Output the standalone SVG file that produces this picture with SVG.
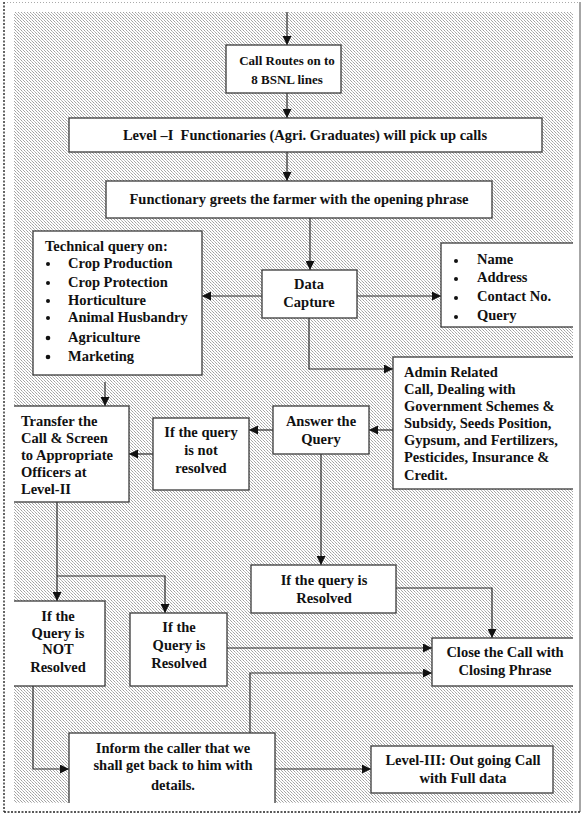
<svg xmlns="http://www.w3.org/2000/svg" width="586" height="817" viewBox="0 0 586 817">
<defs>
<pattern id="dots" width="3" height="3" patternUnits="userSpaceOnUse">
<rect width="3" height="3" fill="#ffffff"/>
<rect x="0" y="0" width="1" height="1" fill="#a0a0a0"/>
<rect x="1" y="1" width="1" height="1" fill="#c0c0c0"/>
<rect x="2" y="2" width="1" height="1" fill="#a8a8a8"/>
</pattern>
<clipPath id="area"><rect x="14" y="12" width="559" height="791"/></clipPath>
<marker id="ah" viewBox="0 0 10 10" refX="10" refY="5" markerWidth="9" markerHeight="9" markerUnits="userSpaceOnUse" orient="auto">
<path d="M0,0 L10,5 L0,10 Z" fill="#111"/>
</marker>
<style>
.box{fill:#ffffff;stroke:#3a3a3a;stroke-width:1.3}
.t{font-family:"Liberation Serif","Times New Roman",serif;font-weight:bold;font-size:14.5px;fill:#111}
.s{font-size:13px}
.c{text-anchor:middle}
.ln{fill:none;stroke:#2a2a2a;stroke-width:1.2}
.ar{marker-end:url(#ah)}
.bul{fill:#111}
</style>
</defs>
<rect width="586" height="817" fill="#ffffff"/>
<rect x="14" y="12" width="559" height="791" fill="url(#dots)"/>
<line x1="4" y1="2.5" x2="580" y2="2.5" stroke="#aaa" stroke-width="1" stroke-dasharray="1,2"/>
<line x1="4" y1="2" x2="4" y2="812" stroke="#333" stroke-width="1.5" stroke-dasharray="2,1.5"/>
<line x1="580" y1="2" x2="580" y2="812" stroke="#888" stroke-width="1.5"/>
<line x1="4" y1="812" x2="580" y2="812" stroke="#222" stroke-width="1.5" stroke-dasharray="2,1.5"/>
<g clip-path="url(#area)">
<g id="connectors">
<path class="ln ar" d="M287,12 V45"/>
<path class="ln ar" d="M287,93 V118"/>
<path class="ln ar" d="M287,152 V181"/>
<path class="ln ar" d="M310,218 V270"/>
<path class="ln ar" d="M262,296 H202"/>
<path class="ln ar" d="M357,296 H441"/>
<path class="ln ar" d="M309,318 V369 H393"/>
<path class="ln ar" d="M393,430 H369"/>
<path class="ln ar" d="M273,430 H249"/>
<path class="ln ar" d="M153,454 H129"/>
<path class="ln ar" d="M105,382 V406"/>
<path class="ln ar" d="M57,502 V601"/>
<path class="ln ar" d="M57,576 H165 V613"/>
<path class="ln ar" d="M321,454 V565"/>
<path class="ln ar" d="M396,588 H492 V638"/>
<path class="ln ar" d="M227,648 H432"/>
<path class="ln ar" d="M250,733 V673 H432"/>
<path class="ln ar" d="M33,686 V769 H69"/>
<path class="ln ar" d="M275,769 H371"/>
</g>
<g id="n1"><rect class="box" x="226" y="45" width="115" height="48"/>
<text class="t s c" x="287" y="65">Call Routes on to</text>
<text class="t s c" x="287" y="84">8 BSNL lines</text></g>
<g id="n2"><rect class="box" x="69" y="118" width="473" height="34"/>
<text class="t c" x="305" y="140">Level –I&#160; Functionaries (Agri. Graduates) will pick up calls</text></g>
<g id="n3"><rect class="box" x="106" y="181" width="386" height="37"/>
<text class="t c" x="299" y="204">Functionary greets the farmer with the opening phrase</text></g>
<g id="n4"><rect class="box" x="262" y="270" width="95" height="48"/>
<text class="t c" x="309" y="289">Data</text>
<text class="t c" x="309" y="307">Capture</text></g>
<g id="n5"><rect class="box" x="33" y="231" width="169" height="144"/>
<text class="t" x="45" y="251">Technical query on:</text>
<circle class="bul" cx="48" cy="264" r="2"/><text class="t" x="68" y="268">Crop Production</text>
<circle class="bul" cx="48" cy="283" r="2"/><text class="t" x="68" y="287">Crop Protection</text>
<circle class="bul" cx="48" cy="301" r="2"/><text class="t" x="68" y="305">Horticulture</text>
<circle class="bul" cx="48" cy="318" r="2"/><text class="t" x="68" y="322">Animal Husbandry</text>
<circle class="bul" cx="48" cy="338" r="2.3"/><text class="t" x="68" y="342">Agriculture</text>
<circle class="bul" cx="48" cy="357" r="2.3"/><text class="t" x="68" y="361">Marketing</text></g>
<g id="n6"><rect class="box" x="441" y="243" width="160" height="84"/>
<circle class="bul" cx="456" cy="261" r="2"/><text class="t" x="477" y="264">Name</text>
<circle class="bul" cx="456" cy="279" r="2"/><text class="t" x="477" y="282">Address</text>
<circle class="bul" cx="456" cy="298" r="2"/><text class="t" x="477" y="301">Contact No.</text>
<circle class="bul" cx="456" cy="317" r="2"/><text class="t" x="477" y="320">Query</text></g>
<g id="n7"><rect class="box" x="393" y="357" width="210" height="132"/>
<text class="t" x="404" y="377">Admin Related</text>
<text class="t" x="404" y="394">Call, Dealing with</text>
<text class="t" x="404" y="411">Government Schemes &amp;</text>
<text class="t" x="404" y="428">Subsidy, Seeds Position,</text>
<text class="t" x="404" y="445">Gypsum, and Fertilizers,</text>
<text class="t" x="404" y="462">Pesticides, Insurance &amp;</text>
<text class="t" x="404" y="480">Credit.</text></g>
<g id="n8"><rect class="box" x="273" y="406" width="96" height="48"/>
<text class="t c" x="321" y="426">Answer the</text>
<text class="t c" x="321" y="444">Query</text></g>
<g id="n9"><rect class="box" x="153" y="418" width="96" height="72"/>
<text class="t c" x="201" y="437">If the query</text>
<text class="t c" x="201" y="455">is not</text>
<text class="t c" x="201" y="473">resolved</text></g>
<g id="n10"><rect class="box" x="5" y="406" width="124" height="96"/>
<text class="t" x="21" y="426">Transfer the</text>
<text class="t" x="21" y="443">Call &amp; Screen</text>
<text class="t" x="21" y="460">to Appropriate</text>
<text class="t" x="21" y="477">Officers at</text>
<text class="t" x="21" y="494">Level-II</text></g>
<g id="n11"><rect class="box" x="251" y="565" width="145" height="48"/>
<text class="t c" x="324" y="585">If the query is</text>
<text class="t c" x="324" y="603">Resolved</text></g>
<g id="n12"><rect class="box" x="5" y="601" width="100" height="85"/>
<text class="t c" x="58" y="621">If the</text>
<text class="t c" x="58" y="638">Query is</text>
<text class="t c" x="58" y="654">NOT</text>
<text class="t c" x="58" y="672">Resolved</text></g>
<g id="n13"><rect class="box" x="130" y="613" width="97" height="73"/>
<text class="t c" x="179" y="632">If the</text>
<text class="t c" x="179" y="650">Query is</text>
<text class="t c" x="179" y="668">Resolved</text></g>
<g id="n14"><rect class="box" x="432" y="638" width="170" height="48"/>
<text class="t c" x="505" y="657">Close the Call with</text>
<text class="t c" x="505" y="675">Closing Phrase</text></g>
<g id="n15"><rect class="box" x="69" y="733" width="206" height="90"/>
<text class="t c" x="173" y="753">Inform the caller that we</text>
<text class="t c" x="173" y="770">shall get back to him with</text>
<text class="t c" x="173" y="790">details.</text></g>
<g id="n16"><rect class="box" x="371" y="746" width="182" height="47"/>
<text class="t c" x="463" y="765">Level-III: Out going Call</text>
<text class="t c" x="463" y="783">with Full data</text></g>
</g>
</svg>
